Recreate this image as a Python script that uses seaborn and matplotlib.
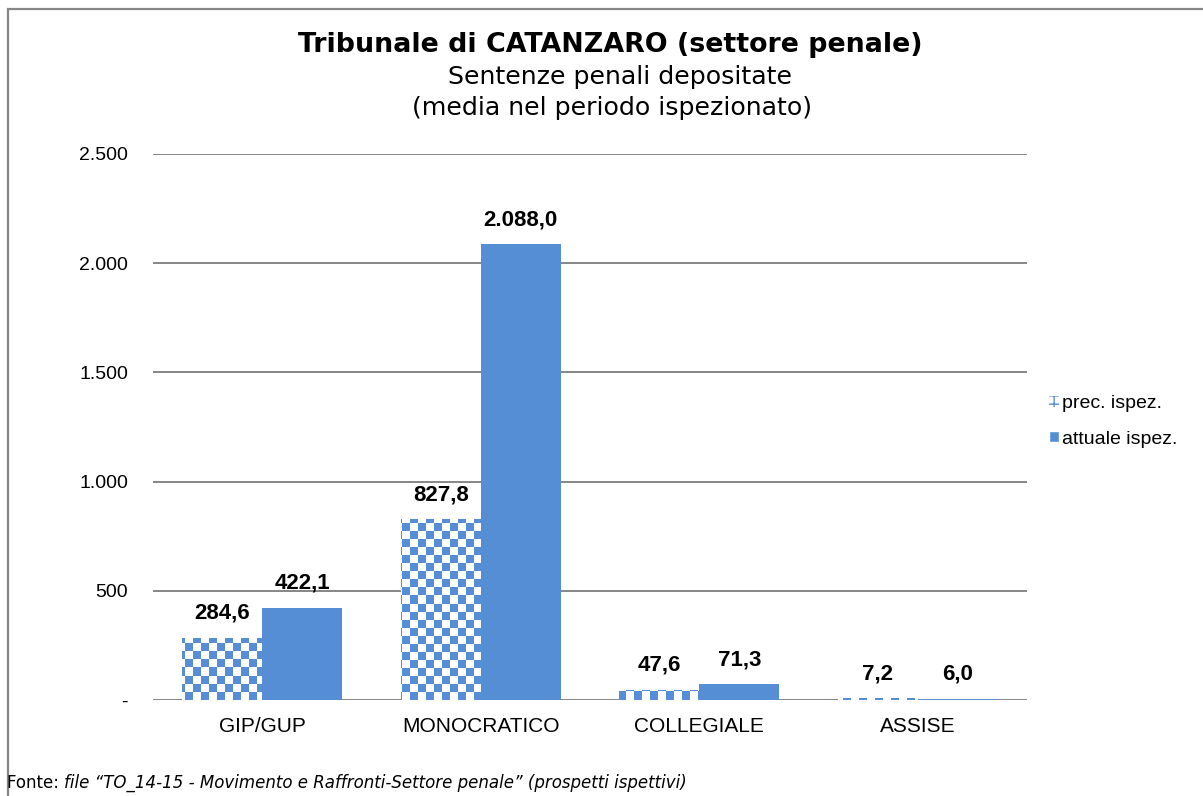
import numpy as np
import pandas as pd
import matplotlib
matplotlib.use('Agg')
import matplotlib.pyplot as plt
import seaborn as sns
from matplotlib.patches import Rectangle, Patch


CATEGORIES = ["GIP/GUP", "MONOCRATICO", "COLLEGIALE", "ASSISE"]
PREC = [284.6, 827.8, 47.6, 7.2]
ATTUALE = [422.1, 2088.0, 71.3, 6.0]
SERIES = ["prec. ispez.", "attuale ispez."]
Y_TICKS = [0, 500, 1000, 1500, 2000, 2500]

BLUE = "#558ED5"
GRID = "#868686"


def it_num(v, dec=1):
    """
    Italian number format: dot thousands, comma decimals
    """
    s = f"{v:,.{dec}f}"
    return s.replace(",", "X").replace(".", ",").replace("X", ".")


data = pd.DataFrame({
    "categoria": CATEGORIES * 2,
    "serie": [SERIES[0]] * len(CATEGORIES) + [SERIES[1]] * len(CATEGORIES),
    "valore": PREC + ATTUALE,
})

sns.set_style("white")
plt.rcParams['font.family'] = ['Liberation Sans', 'DejaVu Sans']
plt.rcParams['text.color'] = 'black'
plt.rcParams['xtick.color'] = 'black'
plt.rcParams['ytick.color'] = 'black'

fig = plt.figure(figsize=(12.03, 7.96), dpi=100)
ax = fig.add_axes([153 / 1203, 1 - 700 / 796, 874 / 1203, 546 / 796])

sns.barplot(data=data, x="categoria", y="valore", hue="serie", order=CATEGORIES,
            hue_order=SERIES, palette=[BLUE, BLUE], width=0.732, gap=0,
            saturation=1, legend=False, ax=ax, linewidth=0, edgecolor="none")

ax.set_ylim(0, 2500)
ax.set_yticks(Y_TICKS)
ax.set_yticklabels(["-" if t == 0 else it_num(t, 0) for t in Y_TICKS], fontsize=14)
ax.set_xlabel("")
ax.set_ylabel("")
ax.tick_params(axis='x', labelsize=15, length=0, pad=12)
ax.tick_params(axis='y', length=0, pad=18)
for s in ax.spines.values():
    s.set_visible(False)
ax.yaxis.grid(True, color=GRID, linewidth=1.4)
ax.set_axisbelow(True)

# checker texture on "prec." bars
n = len(CATEGORIES)
bars = ax.patches
cell = 8
nx, ny = int(874 / cell), int(546 / cell)
idx = np.indices((ny, nx)).sum(axis=0) % 2
rgb = np.ones((ny, nx, 3))
blue_rgb = np.array(matplotlib.colors.to_rgb(BLUE))
rgb[idx == 1] = blue_rgb
for p in bars[:n]:
    p.set_facecolor("white")
    im = ax.imshow(rgb, extent=[0, 1, 0, 1], transform=ax.transAxes,
                   interpolation='nearest', aspect='auto', zorder=p.get_zorder())
    im.set_clip_path(p)
ax.set_xlim(-0.5, n - 0.5)
ax.set_ylim(0, 2500)

for p in bars:
    h = p.get_height()
    ax.annotate(it_num(h), (p.get_x() + p.get_width() / 2, h),
                xytext=(0, 10), textcoords='offset points',
                ha='center', va='bottom', fontsize=16, fontweight='bold')

handles = [Patch(facecolor="white", edgecolor=BLUE, hatch="++", linewidth=0),
           Patch(facecolor=BLUE)]
leg = ax.legend(handles, SERIES, loc='center left', bbox_to_anchor=(1.005, 0.51),
                frameon=False, fontsize=14, handlelength=0.5, handleheight=0.5,
                handletextpad=0.2, labelspacing=0.95)

fig.text(610 / 1203, 1 - 45 / 796, "Tribunale di CATANZARO (settore penale)",
         ha='center', va='center', fontsize=19.4, fontweight='bold', family='DejaVu Sans')
fig.text(620 / 1203, 1 - 77 / 796, "Sentenze penali depositate",
         ha='center', va='center', fontsize=18.2, family='DejaVu Sans')
fig.text(612 / 1203, 1 - 108 / 796, "(media nel periodo ispezionato)",
         ha='center', va='center', fontsize=18.2, family='DejaVu Sans')

t1 = fig.text(7 / 1203, 1 - 783 / 796, "Fonte: ", ha='left', va='center',
              fontsize=12, family='DejaVu Sans')
fig.canvas.draw()
bb = t1.get_window_extent()
fig.text(bb.x1 / 1203, 1 - 783 / 796,
         "file \u201cTO_14-15 - Movimento e Raffronti-Settore penale\u201d (prospetti ispettivi)",
         ha='left', va='center', fontsize=12, style='italic', family='DejaVu Sans')

fig.patches.append(Rectangle((8 / 1203, -0.1), 1.2, 1.1 - 9 / 796, transform=fig.transFigure,
                             fill=False, edgecolor=GRID, linewidth=1.6))

fig.savefig("out.png", dpi=100)
